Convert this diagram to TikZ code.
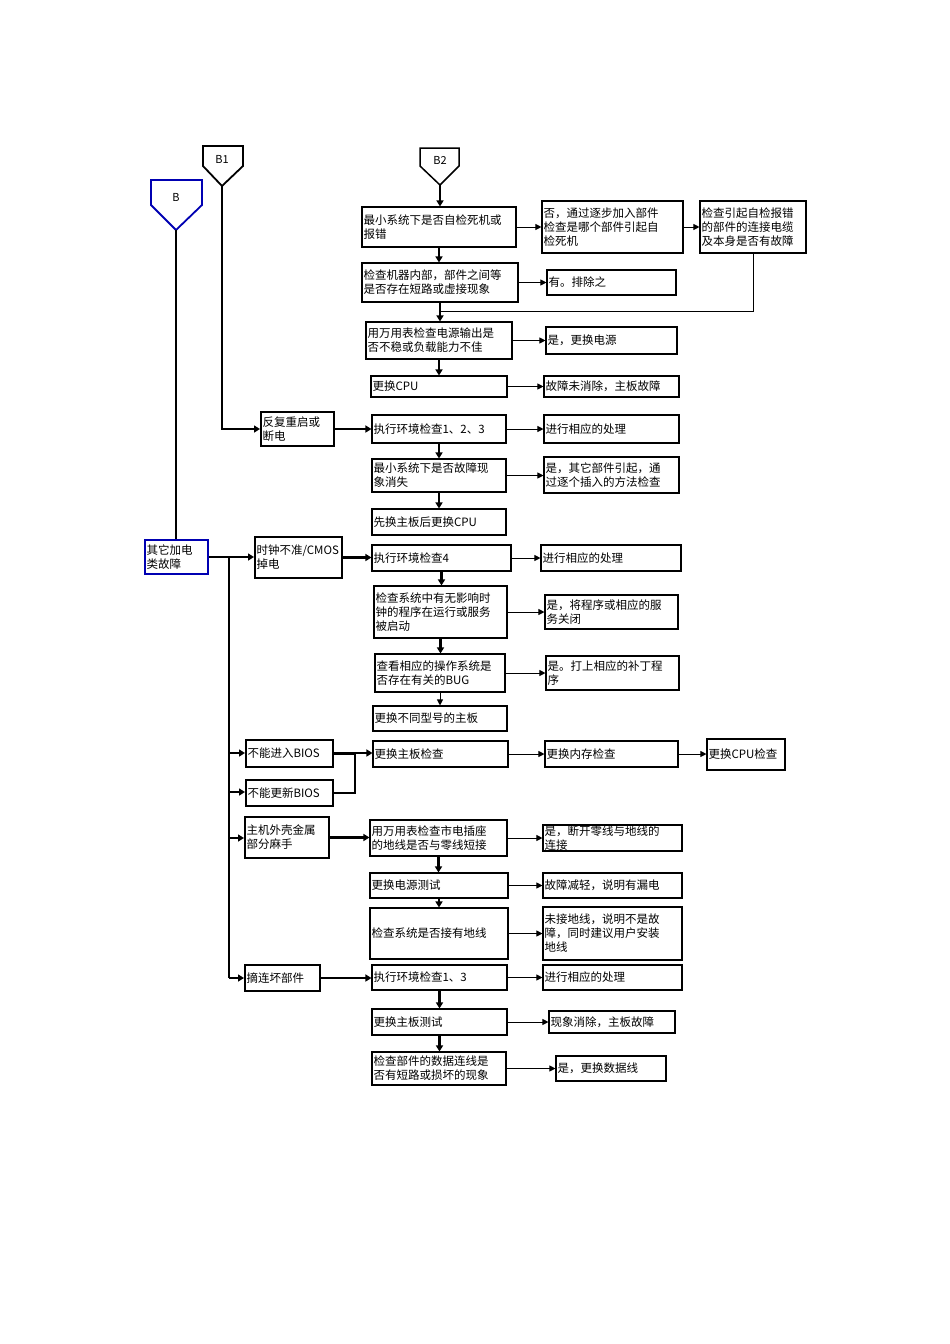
\documentclass[tikz,border=0pt]{standalone}
\usepackage{fontspec}
\setmainfont{Noto Sans CJK SC}
\usetikzlibrary{arrows.meta}
\begin{document}
\begin{tikzpicture}[x=1pt,y=-1pt,
  box/.style={draw,line width=1.1pt,inner xsep=1.5pt,inner ysep=0pt,align=left,font=\fontsize{11.5}{14}\selectfont},
  tb/.style={line width=2pt},
  blue box/.style={draw=blue!70!black,line width=1.8pt},
  arr/.style={line width=1pt,-{Triangle[length=6pt,width=6pt]}},
  tarr/.style={line width=2.2pt,-{Triangle[length=6pt,width=7pt]}},
  tl/.style={line width=2.4pt}]
\useasboundingbox (0,0) rectangle (950,1344);
\newcommand\bx[7][]{\node[box,#1,minimum width={(#5-#3)*1pt},minimum height={(#6-#4)*1pt},text width={(#5-#3)*1pt-3pt}] (#2) at ({(#3+#5)/2},{(#4+#6)/2}) {#7};}
% connectors shapes
\draw[line width=1.8pt,blue!70!black] (151,180)--(202,180)--(202,205)--(176,230)--(151,205)--cycle;
\node[font=\fontsize{11}{13}\selectfont] (Bl) at (176,197) {B};
\coordinate (B) at (176,230);
\draw[line width=1.8pt] (203,146)--(243,146)--(243,166)--(222,186)--(203,166)--cycle;
\node[font=\fontsize{11}{13}\selectfont] (B1l) at (222,159) {B1};
\coordinate (B1) at (222,186);
\draw[line width=1.5pt] (420,148)--(459,148)--(459,166)--(440,185)--(420,166)--cycle;
\node[font=\fontsize{11}{13}\selectfont] (B2l) at (440,160) {B2};
\coordinate (B2) at (440,185);
% B2 chain
\bx{a1}{362}{207}{516}{247}{最小系统下是否自检死机或\\报错}
\bx{a2}{542}{201}{683}{253}{否，通过逐步加入部件\\检查是哪个部件引起自\\检死机}
\bx{a3}{700}{201}{806}{253}{检查引起自检报错\\的部件的连接电缆\\及本身是否有故障}
\bx{b1}{362}{263}{518}{302}{检查机器内部，部件之间等\\是否存在短路或虚接现象}
\bx{b2}{547}{270}{676}{295}{有。排除之}
\bx{c1}{366}{322}{512}{359}{用万用表检查电源输出是\\否不稳或负载能力不佳}
\bx{c2}{546}{327}{677}{354}{是，更换电源}
\bx{d1}{371}{376}{507}{397}{更换CPU}
\bx{d2}{544}{376}{679}{397}{故障未消除，主板故障}
\bx[tb]{e0}{261}{412}{334}{446}{反复重启或\\断电}
\bx{e1}{372}{415}{506}{443}{执行环境检查1、2、3}
\bx{e2}{544}{415}{679}{443}{进行相应的处理}
\bx{f1}{372}{459}{506}{492}{最小系统下是否故障现\\象消失}
\bx{f2}{544}{457}{679}{493}{是，其它部件引起，通\\过逐个插入的方法检查}
\bx{g1}{372}{509}{506}{535}{先换主板后更换CPU}
\bx[blue box]{h0}{145}{540}{208}{574}{其它加电\\类故障}
\bx[tb]{h1}{255}{537}{342}{578}{时钟不准/CMOS\\掉电}
\bx{h2}{372}{545}{511}{571}{执行环境检查4}
\bx{h3}{541}{545}{681}{571}{进行相应的处理}
\bx{i1}{374}{586}{507}{638}{检查系统中有无影响时\\钟的程序在运行或服务\\被启动}
\bx{i2}{545}{595}{678}{629}{是，将程序或相应的服\\务关闭}
\bx{j1}{375}{654}{505}{692}{查看相应的操作系统是\\否存在有关的BUG}
\bx{j2}{546}{656}{679}{690}{是。打上相应的补丁程\\序}
\bx{k1}{373}{706}{507}{731}{更换不同型号的主板}
\bx[tb]{l0}{246}{740}{333}{767}{不能进入BIOS}
\bx{l1}{373}{741}{508}{767}{更换主板检查}
\bx{l2}{545}{741}{678}{767}{更换内存检查}
\bx{l3}{707}{739}{785}{770}{更换CPU检查}
\bx[tb]{m0}{246}{780}{333}{806}{不能更新BIOS}
\bx[tb]{n0}{245}{817}{329}{858}{主机外壳金属\\部分麻手}
\bx{n1}{370}{820}{507}{856}{用万用表检查市电插座\\的地线是否与零线短接}
\bx{n2}{543}{825}{682}{851}{是，断开零线与地线的\\连接}
\bx{o1}{370}{873}{508}{898}{更换电源测试}
\bx{o2}{543}{873}{682}{898}{故障减轻，说明有漏电}
\bx{p1}{370}{908}{508}{959}{检查系统是否接有地线}
\bx{p2}{543}{907}{682}{960}{未接地线，说明不是故\\障，同时建议用户安装\\地线}
\bx[tb]{q0}{245}{965}{320}{991}{摘连坏部件}
\bx{q1}{372}{965}{507}{990}{执行环境检查1、3}
\bx{q2}{543}{965}{682}{990}{进行相应的处理}
\bx{r1}{372}{1009}{507}{1035}{更换主板测试}
\bx{r2}{549}{1011}{675}{1033}{现象消除，主板故障}
\bx{s1}{372}{1052}{506}{1085}{检查部件的数据连线是\\否有短路或损坏的现象}
\bx{s2}{556}{1056}{666}{1081}{是，更换数据线}
% horizontal arrows (thin)
\foreach \s/\t in {a1/a2,a2/a3,b1/b2,c1/c2,d1/d2,e1/e2,f1/f2,h2/h3,i1/i2,j1/j2,l1/l2,l2/l3,n1/n2,o1/o2,p1/p2,q1/q2,r1/r2,s1/s2}
  \draw[arr] (\s.east) -- (\s.east -| \t.west);
% vertical arrows
\foreach \s/\t in {a1/b1,c1/d1,e1/f1,f1/g1,h2/i1,i1/j1,n1/o1,o1/p1,q1/r1,r1/s1}
  \draw[tarr] (\s.south) -- (\s.south |- \t.north);
\draw[line width=1pt,-{Triangle[length=6pt,width=6pt]}] (j1.south) -- (j1.south |- k1.north);
\draw[tarr] (B2) -- (B2 |- a1.north);
\draw[tarr] (b1.south) -- (b1.south |- c1.north);
\draw[line width=1pt] (a3.south) |- (b1.south |- 0,311);
% B1 branch
\draw[tarr] (B1) |- (e0.west);
\draw[tarr] (e0.east) -- (e0.east -| e1.west);
% B to h0
\draw[tl] (B) -- (B |- h0.north);
\draw[tarr] (h0.east) -- (h0.east -| h1.west);
\draw[tarr] (h1.east) -- (h1.east -| h2.west);
\coordinate (T0) at (229,557);
\coordinate (T1) at (229,978);
\draw[tl] (T0) -- (T1);
\draw[tarr] (229,753) -- (229,753 -| l0.west);
\draw[tarr] (229,792) -- (229,792 -| m0.west);
\draw[tarr] (229,838) -- (229,838 -| n0.west);
\draw[tarr] (T1) -- (T1 -| q0.west);
\coordinate (J) at (355,753);
\draw[tl] (l0.east) -- (l0.east -| J);
\draw[tl] (m0.east) -| (J);
\draw[tarr] (J) -- (J -| l1.west);
\draw[tarr] (n0.east) -- (n0.east -| n1.west);
\draw[tarr] (q0.east) -- (q0.east -| q1.west);
\end{tikzpicture}
\end{document}
